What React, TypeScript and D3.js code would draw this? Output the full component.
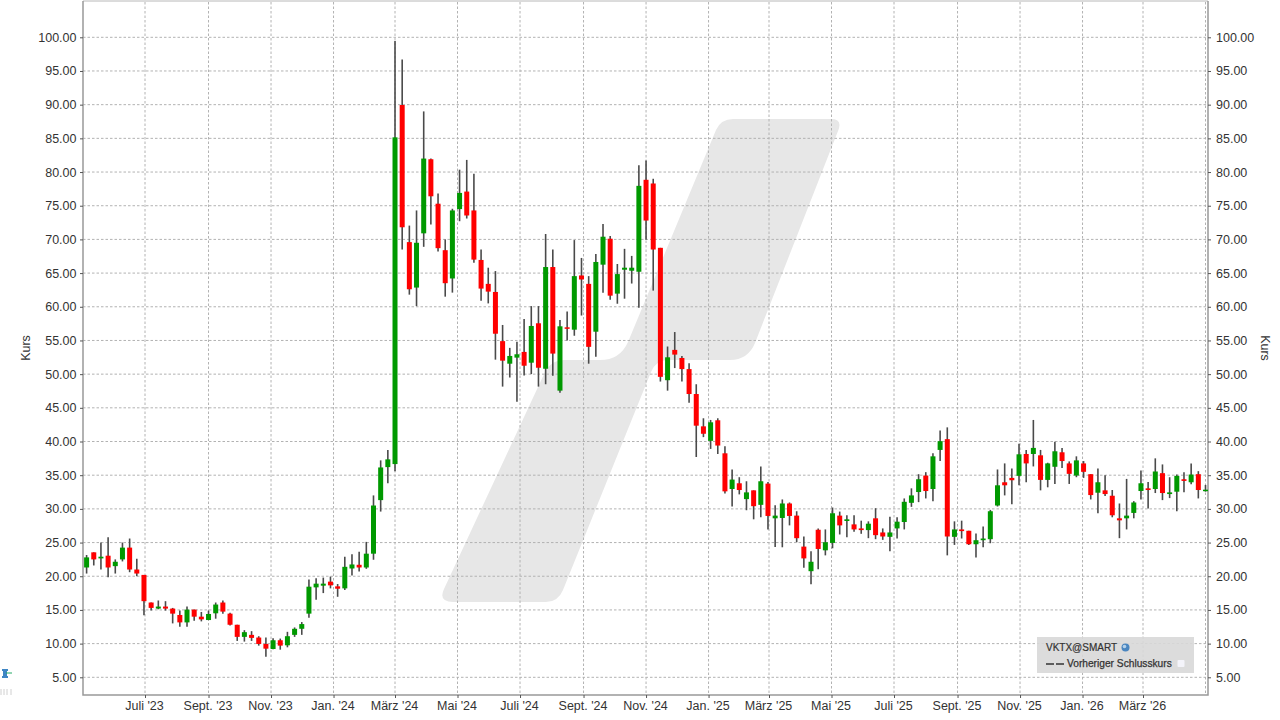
import React, { useEffect, useRef } from 'react';
import * as d3 from 'd3';

const opens = [
  21.3, 23.55, 22.65, 23.05, 21.5, 22.5, 24.25, 21, 20.2, 16.1,
  15.2, 15.5, 15.2, 14.25, 13.15, 15.05, 14, 13.5, 14.5, 16.1,
  14.45, 12.8, 11, 11.3, 10.9, 9.95, 9.2, 10.5, 9.75, 11.3,
  12.2, 14.45, 18.35, 18.6, 19.2, 18.5, 18.2, 21.15, 21.7, 21.3,
  23.35, 31.3, 36.2, 36.65, 89.95, 69.6, 62.85, 70.9, 81.9, 75.3,
  68.4, 64.2, 74.5, 77.1, 74.3, 66.95, 63.4, 62.2, 54.9, 51.55,
  52.45, 53.3, 51.7, 57.55, 50.8, 65.9, 47.55, 56.95, 56.6, 64.65,
  63.4, 56.3, 66.25, 70.1, 61.95, 65.5, 65.35, 65.2, 78.85, 78.3,
  68.75, 49.1, 53.6, 52.4, 50.75, 47.05, 42.25, 40.1, 43.15, 38.25,
  32.95, 33.8, 31.45, 32.75, 30.6, 33.75, 28.6, 28.65, 30.8, 29,
  24.4, 20.75, 26.9, 23.85, 24.95, 29, 28.2, 27.7, 27.1, 26.85,
  28.6, 26.5, 25.85, 27.1, 28.05, 30.9, 32.5, 34.95, 32.95, 38.75,
  40.35, 25.85, 26.95, 26.75, 24.75, 25.35, 25.5, 30.5, 33.95, 34.6,
  34.9, 38.15, 38.15, 37.95, 34.3, 36.25, 38.4, 36.75, 34.95, 36.75,
  35.15, 32.4, 32.75, 31.95, 28.6, 28.6, 29.4, 32.65, 33.05, 32.95,
  35.3, 32.2, 32.55, 34.4, 33.95, 35.15, 32.65,
];

const highs = [
  23.15, 23.55, 25, 25.8, 22.5, 25, 25.6, 22.6, 20.2, 16.1,
  16.4, 16.3, 15.3, 14.9, 15.5, 15.05, 14.7, 14.9, 16.1, 16.4,
  14.6, 12.8, 12, 11.85, 11.1, 10.9, 10.8, 10.75, 11.75, 12.4,
  13.2, 19.5, 19.7, 19.8, 19.95, 18.85, 22.9, 23.25, 23.65, 25.1,
  32, 37.2, 38.75, 99.45, 96.7, 72.05, 74.3, 89, 82, 76.8,
  70, 74.55, 80.35, 81.8, 79.75, 68.5, 65.8, 65.3, 57.3, 53.9,
  54.8, 58.2, 60.1, 60.1, 70.8, 68.5, 58.05, 59.3, 69.9, 67.25,
  64.55, 67.85, 72.3, 70.5, 66.35, 68.6, 67.55, 81, 81.7, 79,
  68.75, 54.1, 56.25, 52.7, 51.6, 48.5, 43.45, 43.2, 43.45, 39.3,
  35.85, 34.7, 34.1, 32.75, 36.3, 34, 30.55, 31.4, 30.95, 29.65,
  25.9, 23.7, 27.1, 26.95, 30.2, 29.6, 29.05, 29.05, 28.25, 28.15,
  30.1, 27.1, 28.85, 28.75, 31.55, 33.05, 35.15, 35.45, 38.25, 41.65,
  42.1, 28.15, 28.25, 26.75, 26.35, 27.4, 29.85, 35.85, 36.75, 36,
  39.65, 38.75, 43.2, 38.75, 36.85, 39.95, 39.05, 37.05, 37.8, 37.1,
  35.15, 36, 35, 32.8, 30.8, 34.45, 31.15, 35.7, 34, 37.5,
  36.6, 34.7, 35.1, 35.45, 36.75, 35.6, 33.55,
];

const lows = [
  20.4, 21.6, 21, 19.85, 20.4, 22.2, 20.6, 20, 14.2, 14.9,
  15.1, 14.9, 13, 12.5, 12.5, 13.4, 13.3, 13.5, 13.7, 14.45,
  12.7, 10.4, 10.3, 10.4, 9.7, 8.05, 9.15, 9.1, 9.45, 11,
  11.3, 13.85, 16.5, 17.5, 18.2, 16.95, 17.95, 20.1, 20.7, 21.1,
  22.45, 29.6, 33.8, 35.6, 68.5, 61.8, 60.1, 68.9, 72.2, 68.2,
  61.5, 62.1, 72.7, 73.1, 66.55, 60.9, 60.5, 52.15, 48.15, 49.5,
  45.9, 49.8, 50, 48.15, 48.5, 49.75, 47.25, 55, 55.7, 58.7,
  51.55, 52.6, 62.1, 61.05, 60.45, 61.2, 63.45, 59.85, 69.95, 62.4,
  48.9, 47.55, 50.9, 48.9, 45.75, 37.7, 40.65, 38.9, 38.15, 32.3,
  30.35, 32.15, 29.8, 28.45, 28.75, 26.95, 24.35, 24.3, 27.55, 25.05,
  21.25, 18.8, 21.05, 23.1, 24.15, 26.2, 25.8, 26.6, 26.3, 25.65,
  25.5, 25.4, 23.7, 25.6, 26.95, 30.3, 31, 31.55, 31.15, 37.1,
  23.1, 24.65, 25.6, 24.65, 22.8, 24.3, 24.9, 30.35, 32, 30.7,
  33.5, 33.95, 36.3, 32.75, 33.2, 33.7, 36.05, 33.7, 34.7, 34.6,
  31.4, 29.35, 31.9, 28.75, 25.65, 26.95, 28.6, 31.4, 30.05, 32.35,
  31.3, 31.6, 29.65, 32.45, 33.65, 31.55, 32.55,
];

const closes = [
  22.8, 22.5, 22.9, 21.3, 22.15, 24.25, 21, 20.4, 16.3, 15.3,
  15.5, 15.2, 14.45, 13.15, 15.05, 14, 13.6, 14.4, 15.8, 14.75,
  12.8, 11, 11.7, 10.85, 9.95, 9.25, 10.5, 9.7, 11.1, 12.2,
  12.9, 18.45, 18.9, 18.9, 18.65, 18.15, 21.4, 21.75, 21.3, 23.35,
  30.5, 36.15, 37.35, 85.15, 71.8, 62.6, 69.5, 82, 76.4, 68.7,
  63.5, 74.3, 76.9, 73.55, 67, 62.7, 62.25, 56, 52, 52.7,
  52.95, 51.25, 57.15, 50.95, 65.9, 53.05, 57.1, 56.75, 64.55, 64.05,
  54.05, 66.65, 70.4, 61.65, 64.85, 65.8, 65.8, 77.95, 72.8, 68.5,
  49.6, 52.5, 52.9, 50.75, 47.05, 42.35, 41.15, 42.85, 39.4, 32.6,
  34.35, 32.8, 32.45, 30.4, 34.1, 28.95, 29, 30.8, 28.95, 25.65,
  22.65, 22.15, 24.05, 25.05, 29.35, 27.55, 28.45, 26.95, 26.85, 27.8,
  26.1, 25.9, 26.5, 28.1, 31.05, 32, 34.4, 32.65, 37.8, 40.05,
  25.9, 26.95, 26.7, 24.75, 25.35, 25.6, 29.65, 33.5, 33.5, 34.25,
  38.1, 36.75, 39.05, 34.3, 36.75, 38.55, 37.1, 35.2, 37.2, 35.5,
  32.05, 33.95, 32.2, 29.05, 28.3, 29, 30.95, 33.8, 32.8, 35.55,
  32.35, 32.45, 34.9, 34.15, 35.1, 32.8, 32.85,
];

// weekly candles, dated on the Friday of each week
const weeks = d3.utcFriday.range(new Date(Date.UTC(2023, 4, 5)), new Date(Date.UTC(2026, 4, 2)));

const monthDates = [
  [2023, 6], [2023, 8], [2023, 10], [2024, 0], [2024, 2], [2024, 4], [2024, 6], [2024, 8], [2024, 10],
  [2025, 0], [2025, 2], [2025, 4], [2025, 6], [2025, 8], [2025, 10], [2026, 0], [2026, 2],
].map(([y, m]) => new Date(Date.UTC(y, m, 1)));
const monthLabels = [
  "Juli '23", "Sept. '23", "Nov. '23", "Jan. '24", "März '24", "Mai '24", "Juli '24", "Sept. '24", "Nov. '24",
  "Jan. '25", "März '25", "Mai '25", "Juli '25", "Sept. '25", "Nov. '25", "Jan. '26", "März '26",
];
const extraGridDate = new Date(Date.UTC(2026, 4, 1));
const priceTicks = d3.range(5, 101, 5);

const GREEN = '#009900';
const RED = '#ff0000';
const FONT = '"Liberation Sans", Arial, sans-serif';
const TEXT = '#333333';

export default function App() {
  const svgRef = useRef<SVGSVGElement | null>(null);

  useEffect(() => {
    if (!svgRef.current) return;
    const svg = d3.select(svgRef.current);
    svg.selectAll('*').remove();

    const width = 1280;
    const height = 720;
    const margin = { top: 2, right: 72, bottom: 25, left: 83 };
    const bottom = height - margin.bottom;
    const right = width - margin.right;

    // calibrated from the month gridlines: Juli '23 at 145, März '26 at 1143
    const x = d3.scaleUtc()
      .domain([monthDates[0], monthDates[16]])
      .range([145, 1143]);
    const y = d3.scaleLinear().domain([5, 100]).range([677.3, 37.3]);

    // logo watermark behind the grid
    svg.append('path')
      .attr('fill', '#e7e7e7')
      .attr('d', 'M716 130 Q721 119 733 119 L831 119 Q843 119 838 131 L755 343 Q748 360 730 360 L668 360 Q656 360 651 372 L563 590 Q558 602 546 602 L453 602 Q438 602 444 589 L545 372 Q551 360 564 360 L600 360 Q620 360 628 342 Z');

    const gridG = svg.append('g').attr('stroke', '#b2b2b2').attr('stroke-width', 1).attr('stroke-dasharray', '2.5,2');
    gridG.selectAll('line.h')
      .data(priceTicks)
      .join('line')
      .attr('class', 'h')
      .attr('x1', margin.left).attr('x2', right)
      .attr('y1', d => y(d)).attr('y2', d => y(d));
    gridG.selectAll('line.v')
      .data([...monthDates, extraGridDate])
      .join('line')
      .attr('class', 'v')
      .attr('x1', d => x(d)).attr('x2', d => x(d))
      .attr('y1', margin.top).attr('y2', bottom);

    // frame, the top edge is lighter than the others
    svg.append('line')
      .attr('x1', margin.left).attr('x2', right).attr('y1', margin.top - 1).attr('y2', margin.top - 1)
      .attr('stroke', '#b8b8b8').attr('stroke-width', 1);
    svg.append('path')
      .attr('d', `M${margin.left},${margin.top - 1} V${bottom} H${right} V${margin.top - 1}`)
      .attr('fill', 'none').attr('stroke', '#999999').attr('stroke-width', 1.5);

    const candles = weeks.map((date, i) => ({ date, o: opens[i], h: highs[i], l: lows[i], c: closes[i] }));
    const g = svg.append('g');
    g.selectAll('line.wick')
      .data(candles)
      .join('line')
      .attr('class', 'wick')
      .attr('x1', d => x(d.date)).attr('x2', d => x(d.date))
      .attr('y1', d => y(d.h)).attr('y2', d => y(d.l))
      .attr('stroke', '#4a4a4a').attr('stroke-width', 1.6);
    g.selectAll('rect.body')
      .data(candles)
      .join('rect')
      .attr('class', 'body')
      .attr('x', d => x(d.date) - 2.5)
      .attr('width', 5)
      .attr('y', d => y(Math.max(d.o, d.c)))
      .attr('height', d => Math.max(1.5, Math.abs(y(d.o) - y(d.c))))
      .attr('fill', d => (d.c >= d.o ? GREEN : RED));

    // axes
    const styleAxis = (sel: any) => {
      sel.select('.domain').remove();
      sel.selectAll('.tick line').attr('stroke', '#555555');
      sel.selectAll('.tick text').attr('fill', TEXT).attr('font-family', FONT).attr('font-size', 12.5);
    };
    svg.append('g')
      .attr('transform', `translate(${margin.left},0)`)
      .call(d3.axisLeft(y).tickValues(priceTicks).tickSize(3).tickPadding(3.5).tickFormat(d3.format('.2f')) as any)
      .call(styleAxis);
    svg.append('g')
      .attr('transform', `translate(${right},0)`)
      .call(d3.axisRight(y).tickValues(priceTicks).tickSize(3).tickPadding(5).tickFormat(d3.format('.2f')) as any)
      .call(styleAxis);
    svg.append('g')
      .attr('transform', `translate(0,${bottom})`)
      .call(d3.axisBottom(x).tickValues(monthDates).tickSize(3).tickPadding(3.5)
        .tickFormat((_, i) => monthLabels[i]) as any)
      .call(styleAxis);
    svg.selectAll('.tick text').filter((_, i, n) => (n[i] as SVGTextElement).textContent!.includes("'"))
      .attr('dx', -1);

    svg.append('text')
      .attr('transform', 'translate(30,348) rotate(-90)')
      .attr('text-anchor', 'middle')
      .attr('font-family', FONT).attr('font-size', 12.5).attr('fill', TEXT)
      .text('Kurs');
    svg.append('text')
      .attr('transform', 'translate(1261,348) rotate(90)')
      .attr('text-anchor', 'middle')
      .attr('font-family', FONT).attr('font-size', 12.5).attr('fill', TEXT)
      .text('Kurs');

    // legend box
    const legend = svg.append('g');
    legend.append('rect')
      .attr('x', 1037).attr('y', 637).attr('width', 157).attr('height', 36)
      .attr('fill', '#d8d8d8').attr('fill-opacity', 0.9);
    legend.append('text')
      .attr('x', 1046).attr('y', 651)
      .attr('font-family', FONT).attr('font-size', 10).attr('fill', TEXT)
      .attr('stroke', TEXT).attr('stroke-width', 0.2)
      .text('VKTX@SMART');
    legend.append('circle').attr('cx', 1125.5).attr('cy', 647.5).attr('r', 4).attr('fill', '#4a86c0');
    legend.append('circle').attr('cx', 1124.5).attr('cy', 646.5).attr('r', 1.8).attr('fill', '#b5d2ea');
    legend.append('line')
      .attr('x1', 1046).attr('x2', 1064).attr('y1', 664).attr('y2', 664)
      .attr('stroke', '#333333').attr('stroke-width', 1.6).attr('stroke-dasharray', '8,2');
    legend.append('text')
      .attr('x', 1067).attr('y', 667)
      .attr('font-family', FONT).attr('font-size', 10.2).attr('fill', TEXT)
      .attr('stroke', TEXT).attr('stroke-width', 0.25)
      .text('Vorheriger Schlusskurs');
    legend.append('rect')
      .attr('x', 1177.5).attr('y', 660).attr('width', 7).attr('height', 7)
      .attr('rx', 1).attr('fill', '#f4f4fa');

    // small tool icon at the lower left
    const icon = svg.append('g');
    icon.append('rect').attr('x', 3).attr('y', 669).attr('width', 4).attr('height', 9).attr('fill', '#3f86c4');
    icon.append('rect').attr('x', 2).attr('y', 669).attr('width', 6).attr('height', 2).attr('fill', '#3f86c4');
    icon.append('rect').attr('x', 2).attr('y', 676).attr('width', 6).attr('height', 2).attr('fill', '#3f86c4');
    icon.append('line').attr('x1', 6).attr('x2', 12).attr('y1', 673).attr('y2', 673).attr('stroke', '#22aa66').attr('stroke-width', 1);
    icon.selectAll('line.mark')
      .data([1, 4, 7, 11])
      .join('line')
      .attr('class', 'mark')
      .attr('x1', d => d).attr('x2', d => d)
      .attr('y1', 689).attr('y2', 695)
      .attr('stroke', '#d0d0d0').attr('stroke-width', 1);
  }, []);

  return (
    <svg
      ref={svgRef}
      width={1280}
      height={720}
      style={{ position: 'absolute', left: 0, top: 0, background: '#ffffff' }}
    />
  );
}
